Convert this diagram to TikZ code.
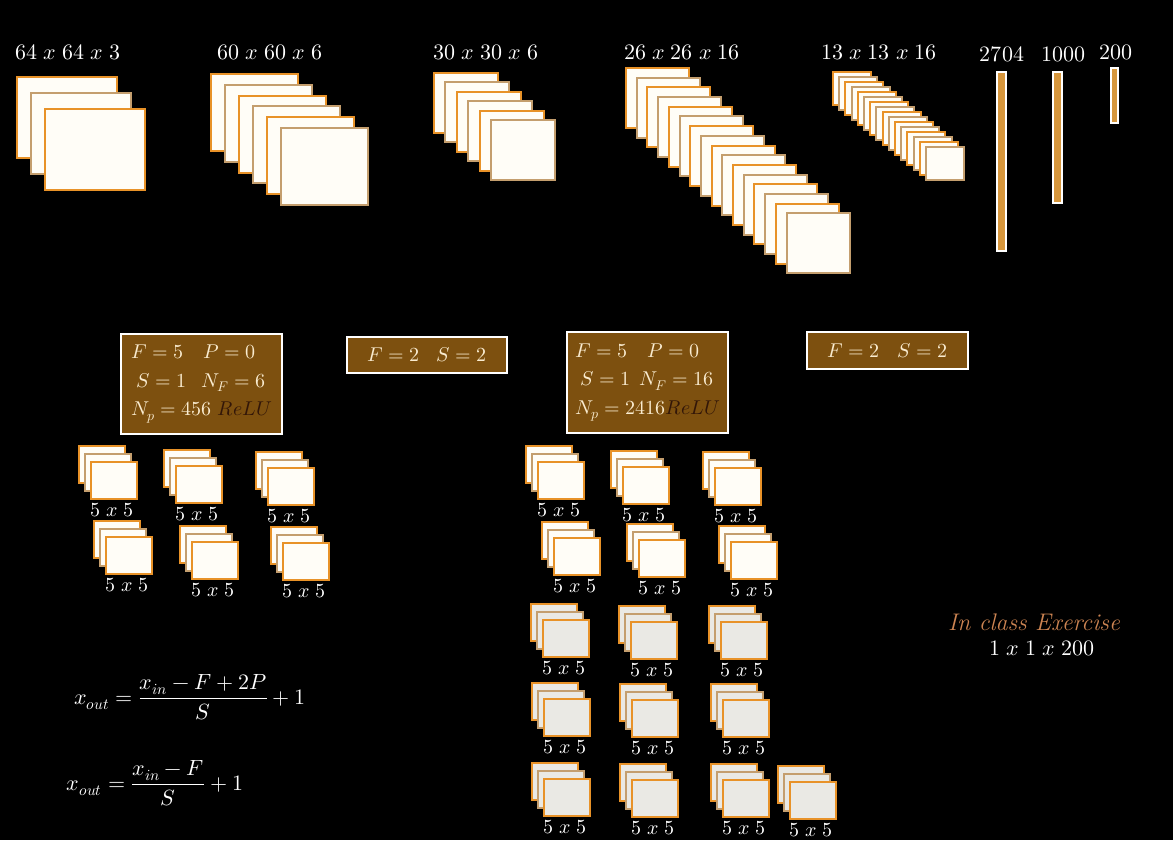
\documentclass[tikz,border=0pt]{standalone}
\usepackage{unicode-math}
\definecolor{orng}{RGB}{232,146,40}
\definecolor{tanc}{RGB}{196,158,110}
\definecolor{cream}{RGB}{255,253,247}
\definecolor{greyish}{RGB}{234,233,228}
\definecolor{boxbrown}{RGB}{125,80,15}
\definecolor{boxtext}{RGB}{250,236,208}
\definecolor{relu}{RGB}{50,22,8}
\definecolor{barorng}{RGB}{214,150,60}
\definecolor{exer}{RGB}{204,132,82}
\tikzstyle{sheet} = [fill=cream, line width=2pt]
\tikzstyle{bar}   = [fill=barorng, draw=white, line width=2pt]
\tikzstyle{pbox}  = [fill=boxbrown, draw=white, line width=2pt, text=boxtext, align=left, inner sep=0pt, font=\fontsize{20}{28.5}\selectfont]
\tikzstyle{dim}   = [text=white, font=\fontsize{22}{26}\selectfont]
\tikzstyle{flab}  = [text=white, font=\fontsize{20}{24}\selectfont]
% x, y, width, height, dx, dy, count
\def\stack#1#2#3#4#5#6#7{
  \foreach \i in {1,...,#7} {
    \ifodd\i\relax \def\bc{orng}\else \def\bc{tanc}\fi
    \draw[sheet, draw=\bc] (#1+\i*#5-#5, #2+\i*#6-#6) rectangle ++(#3,#4);
  }
}
% x, y, fill, name
\def\filt#1#2#3#4{
  \foreach \i in {0,1,2} {
    \ifodd\i\relax \def\bc{tanc}\else \def\bc{orng}\fi
    \draw[sheet, fill=#3, draw=\bc] (#1+6*\i, #2+8*\i) rectangle ++(46,37);
  }
  \node[flab] (#4) at (#1+33, #2+64) {$5\;x\;5$};
}
\begin{document}
\begin{tikzpicture}[x=1pt, y=-1pt]
  \fill[black] (0,0) rectangle (1173,840);
  % feature maps
  \stack{17}{77}{100}{81}{14}{16}{3}
  \stack{211}{74}{87}{77}{14}{10.8}{6}
  \stack{434}{73}{64}{60}{11.4}{9.4}{6}
  \stack{626}{68}{63}{60}{10.7}{9.7}{16}
  \stack{833}{72}{38}{33}{6.2}{5}{16}
  \draw[bar] (997,72) rectangle (1006,251);
  \draw[bar] (1053,72) rectangle (1062,203);
  \draw[bar] (1111,68) rectangle (1118,123);
  \node[dim] (d1) at (68,52)   {$64\;x\;64\;x\;3$};
  \node[dim] (d2) at (270,52)  {$60\;x\;60\;x\;6$};
  \node[dim] (d3) at (486,52)  {$30\;x\;30\;x\;6$};
  \node[dim] (d4) at (682,52)  {$26\;x\;26\;x\;16$};
  \node[dim] (d5) at (879,52)  {$13\;x\;13\;x\;16$};
  \node[dim] (d6) at (1002,54) {$2704$};
  \node[dim] (d7) at (1063,54) {$1000$};
  \node[dim] (d8) at (1116,52) {$200$};
  % layer parameters
  \node[pbox, minimum width=161pt, minimum height=100pt] (c1) at (201.5,384)
    {$F=5\quad P=0$\\ $\;S=1\;\;\, N_F=6$\\ $N_p=456$ {\color{relu}$ReLU$}};
  \node[pbox, minimum width=160pt, minimum height=36pt] (p1) at (427,355) {$F=2\;\;\ S=2$};
  \node[pbox, minimum width=161pt, minimum height=101pt] (c2) at (647.5,382.5)
    {$F=5\quad P=0$\\ $\;S=1\;\, N_F=16$\\ $N_p=2416${\color{relu}$ReLU$}};
  \node[pbox, minimum width=161pt, minimum height=37pt] (p2) at (887.5,350.5) {$F=2\;\;\ S=2$};
  % filters of layer 1
  \filt{79}{446}{cream}{fa}
  \filt{164}{450}{cream}{fb}
  \filt{256}{452}{cream}{fc}
  \filt{94}{521}{cream}{fd}
  \filt{180}{526}{cream}{fe}
  \filt{271}{527}{cream}{ff}
  % filters of layer 2
  \filt{526}{446}{cream}{ga}
  \filt{611}{451}{cream}{gb}
  \filt{703}{452}{cream}{gc}
  \filt{542}{522}{cream}{gd}
  \filt{627}{524}{cream}{ge}
  \filt{719}{526}{cream}{gf}
  \filt{531}{604}{greyish}{gg}
  \filt{619}{606}{greyish}{gh}
  \filt{709}{606}{greyish}{gi}
  \filt{532}{683}{greyish}{gj}
  \filt{620}{684}{greyish}{gk}
  \filt{711}{684}{greyish}{gl}
  \filt{532}{763}{greyish}{gm}
  \filt{620}{764}{greyish}{gn}
  \filt{711}{764}{greyish}{go}
  \filt{778}{766}{greyish}{gp}
  % output size
  \node[text=white, font=\fontsize{22}{26}\selectfont] (f1) at (190,697)
    {$\displaystyle x_{out}=\frac{x_{in}-F+2P}{S}+1$};
  \node[text=white, font=\fontsize{22}{26}\selectfont] (f2) at (155,783)
    {$\displaystyle x_{out}=\frac{x_{in}-F}{S}+1$};
  \node[text=exer, font=\fontsize{24}{28}\selectfont\itshape] (ex) at (1034,622) {In class Exercise};
  \node[text=white, font=\fontsize{22}{26}\selectfont] (res) at (1042,648) {$1\;x\;1\;x\;200$};
\end{tikzpicture}
\end{document}
